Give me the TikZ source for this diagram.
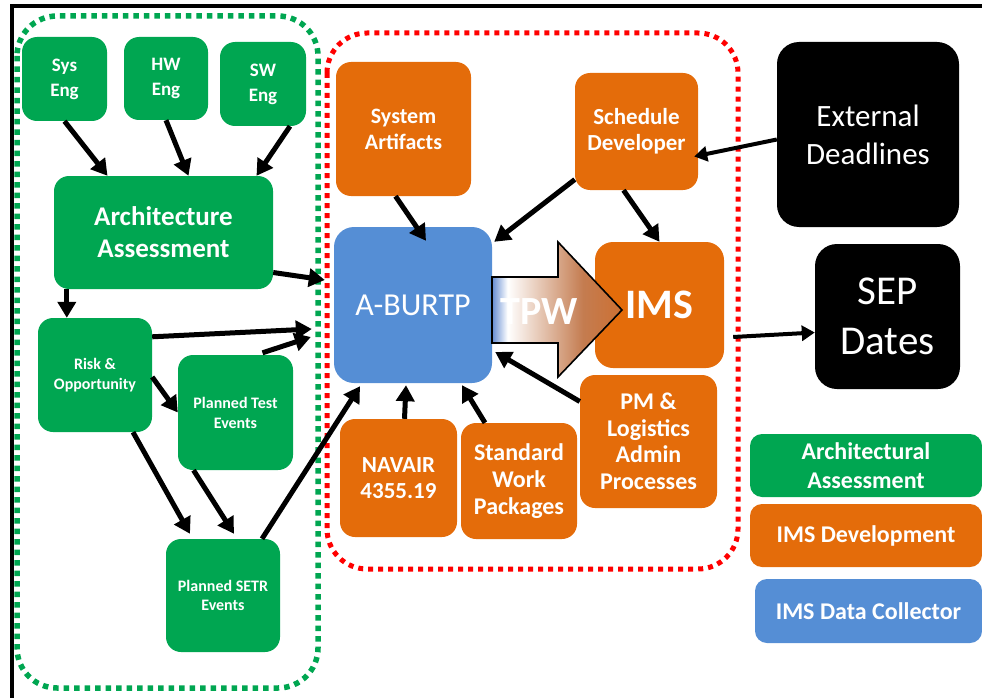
\documentclass[tikz,border=0pt]{standalone}
\usepackage{fontspec}
\setmainfont{Carlito}
\usepackage{xcolor}
\usepackage{tikz}
\usetikzlibrary{arrows.meta}
\usetikzlibrary{calc}

\definecolor{imsgreen}{RGB}{0,166,81}
\definecolor{imsorange}{RGB}{228,108,10}
\definecolor{imsblue}{RGB}{85,142,213}
\definecolor{tpwblue}{RGB}{100,140,210}
\definecolor{tpwbrown}{RGB}{196,124,80}
\definecolor{tpwdark}{RGB}{205,112,50}
\pgfdeclarehorizontalshading{tpwshade}{100bp}{color(0bp)=(tpwblue); color(25bp)=(tpwblue); color(31bp)=(white); color(60bp)=(tpwbrown); color(75bp)=(tpwdark); color(100bp)=(tpwdark)}
\newcommand{\fsz}[2]{\fontsize{#1}{#2}\selectfont}

\begin{document}
\begin{tikzpicture}[x=1pt, y=-1pt,
    tile/.style={rounded corners=15pt, inner sep=0pt, align=center, text=white},
    grn/.style={tile, fill=imsgreen},
    org/.style={tile, fill=imsorange},
    blk/.style={tile, fill=black, rounded corners=22pt},
    key/.style={tile, rounded corners=12pt, minimum height=63pt, font=\fsz{24}{29}\bfseries},
    flow/.style={line width=5pt, -{Triangle[length=16pt, width=18pt]}},
    thinflow/.style={line width=4pt, -{Triangle[length=13pt, width=15pt]}},
  ]

  \useasboundingbox (0,0) rectangle (982,698);
  \clip (0,0) rectangle (982,698);

  % frame
  \draw [line width=3.5pt] (12,698) -- (12,6) -- (982,6);

  % groups
  \draw [imsgreen, line width=5.5pt, dash pattern=on 5.5pt off 5pt, rounded corners=40pt]
    (17,16) rectangle (318,688);
  \draw [red, line width=5pt, dash pattern=on 5pt off 5pt, rounded corners=40pt]
    (327,33) rectangle (738,569);

  % architecture assessment
  \node [grn, minimum width=85pt, minimum height=84pt, font=\fsz{19}{25}\bfseries]
    (syseng) at (64.5,79) {Sys\\Eng};
  \node [grn, minimum width=84pt, minimum height=83pt, font=\fsz{19}{25}\bfseries]
    (hweng) at (166,78.5) {HW\\Eng};
  \node [grn, minimum width=86pt, minimum height=84pt, font=\fsz{19}{25}\bfseries]
    (sweng) at (263,84) {SW\\Eng};
  \node [grn, minimum width=219pt, minimum height=113pt, font=\fsz{27}{32}\bfseries]
    (arch) at (163.5,232.5) {Architecture\\Assessment};
  \node [grn, minimum width=114pt, minimum height=114pt, font=\fsz{16}{20}\bfseries]
    (risk) at (95,375) {Risk \&\\Opportunity};
  \node [grn, minimum width=115pt, minimum height=115pt, font=\fsz{16}{20}\bfseries]
    (ptest) at (235.5,412.5) {Planned Test\\Events};
  \node [grn, minimum width=114pt, minimum height=113pt, font=\fsz{16}{19}\bfseries]
    (psetr) at (223,595.5) {Planned SETR\\Events};

  % ims development
  \node [org, minimum width=135pt, minimum height=134pt, font=\fsz{22}{26}\bfseries]
    (sysart) at (403.5,129) {System\\Artifacts};
  \node [org, minimum width=123pt, minimum height=117pt, font=\fsz{23}{26}\bfseries]
    (sched) at (636.5,131.5) {Schedule\\Developer};
  \node [tile, fill=imsblue, minimum width=158pt, minimum height=156pt, rounded corners=20pt, font=\fsz{32}{38}]
    (burtp) at (413,305) {A-BURTP};
  \node [org, minimum width=129pt, minimum height=126pt, rounded corners=18pt, font=\fsz{42}{48}\bfseries]
    (ims) at (659.5,305) {IMS};
  \node [org, minimum width=117pt, minimum height=118pt, font=\fsz{23}{26}\bfseries]
    (navair) at (398.5,478) {NAVAIR\\4355.19};
  \node [org, minimum width=116pt, minimum height=116pt, font=\fsz{24}{27}\bfseries]
    (swp) at (519,481) {Standard\\Work\\Packages};
  \node [org, minimum width=137pt, minimum height=133pt, font=\fsz{24}{26.5}\bfseries]
    (pm) at (648.5,441.5) {PM \&\\Logistics\\Admin\\Processes};

  % outside
  \node [blk, minimum width=182pt, minimum height=185pt, font=\fsz{31}{38}]
    (ext) at (868,134.5) {External\\Deadlines};
  \node [blk, minimum width=145pt, minimum height=145pt, font=\fsz{41}{50}]
    (sep) at (887.5,316.5) {SEP\\Dates};

  % legend
  \node [key, fill=imsgreen, minimum width=232pt] (keyarch) at (866,465.5) {Architectural\\Assessment};
  \node [key, fill=imsorange, minimum width=232pt] (keydev) at (866,535.5) {IMS Development};
  \node [key, fill=imsblue, minimum width=227pt, minimum height=64pt] (keydata) at (868.5,611) {IMS Data Collector};

  % arrows
  \draw [flow] (syseng.south) -- ([xshift=-56pt]arch.north);
  \draw [flow] (hweng.south) -- ([xshift=25pt]arch.north);
  \draw [flow] ([xshift=27pt]sweng.south) -- ([xshift=93pt]arch.north);
  \draw [flow] ([yshift=-40pt]arch.east) -- ([xshift=-9pt,yshift=25pt]burtp.west);
  \draw [flow] ([xshift=13pt]arch.south west) -- ([xshift=29pt]risk.north west);
  \draw [flow] ([yshift=-19pt]risk.north east) -- ([xshift=-22pt,yshift=-24pt]burtp.west);
  \draw [flow] ([xshift=27pt,yshift=2pt]ptest.north) -- ([xshift=-23pt,yshift=-32pt]burtp.west);
  \draw [flow] ([yshift=-2pt]risk.east) -- (ptest.west);
  \draw [flow] ([xshift=38pt]risk.south) -- ([xshift=-33pt,yshift=5pt]psetr.north);
  \draw [flow] ([xshift=-42pt]ptest.south) -- ([xshift=11pt,yshift=5pt]psetr.north);
  \draw [flow] ([xshift=39pt]psetr.north) -- ([xshift=-53pt,yshift=-3pt]burtp.south);
  \draw [flow] ([xshift=6pt]navair.north) -- ([xshift=-7pt,yshift=-2pt]burtp.south);
  \draw [flow] ([xshift=-34pt]swp.north) -- ([xshift=49pt,yshift=-2pt]burtp.south);
  \draw [flow] ([yshift=40pt]pm.west) -- ([xshift=3pt,yshift=-47pt]burtp.east);
  \draw [flow] ([xshift=-8pt]sysart.south) -- ([xshift=13pt,yshift=-14pt]burtp.north);
  \draw [flow] ([yshift=-48pt]sched.west) -- ([xshift=2pt,yshift=-15pt]burtp.north east);
  \draw [flow] ([xshift=-13pt]sched.south) -- (ims.north);
  \draw [thinflow] ([yshift=-5pt]ext.west) -- ([xshift=-4pt,yshift=-25pt]sched.east);
  \draw [thinflow] ([xshift=9pt,yshift=-32pt]ims.east) -- ([yshift=-16pt]sep.west);

  % tpw arrow
  \path [draw=black, line width=1.6pt, shading=tpwshade]
    (492,277) -- (558,277) -- (558,242) -- (622,310) -- (558,377)
    -- (558,343) -- (492,343) -- cycle;
  \node [text=white, font=\fsz{40}{44}\bfseries] (tpw) at (539,312) {TPW};

\end{tikzpicture}
\end{document}
